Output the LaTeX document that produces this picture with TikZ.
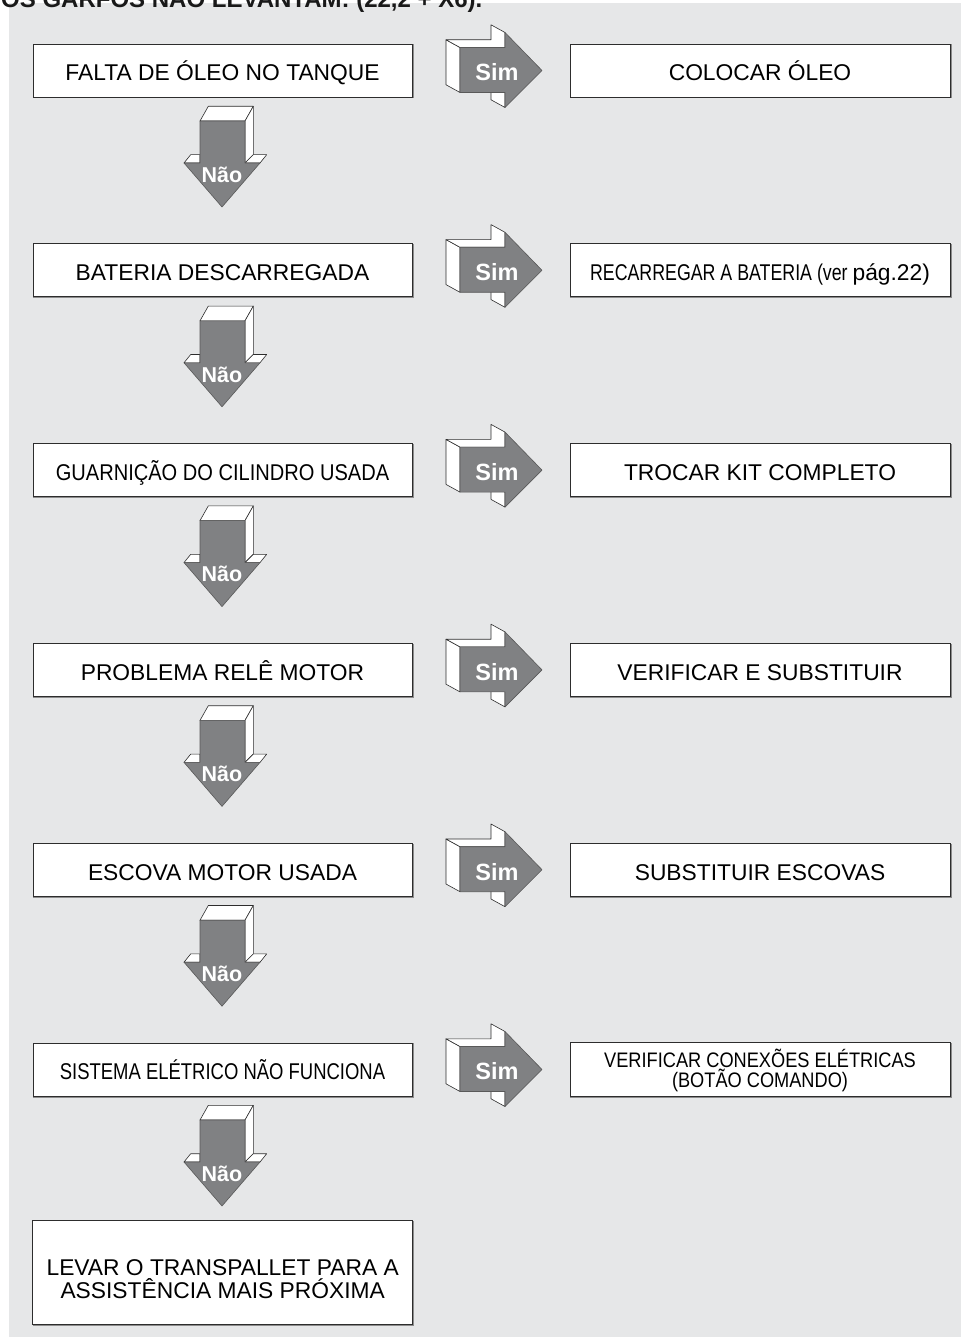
\documentclass[tikz,border=0pt]{standalone}
\usepackage{fontspec}
\usepackage{graphicx}
\setmainfont{Liberation Sans}
\newfontfamily\libsans{Liberation Sans}
\definecolor{bggray}{RGB}{230,231,232}
\definecolor{arrgray}{RGB}{128,129,131}
\definecolor{edgegray}{RGB}{45,45,45}
\newcommand{\bsz}{\libsans\fontsize{22.8pt}{24pt}\selectfont}
\newcommand{\cnd}[2]{\scalebox{#1}[1]{#2}}
\tikzset{
  face/.style={fill=white, draw=edgegray, line width=0.6pt, line join=round},
  frontface/.style={fill=arrgray, draw=black!65, line width=0.6pt, line join=round},
  boxbase/.style={draw=edgegray, line width=0.8pt, fill=white, inner sep=0pt,
     align=center, font=\bsz,
     preaction={draw=black!45, line width=1.2pt, transform canvas={shift={(0.9pt,-0.9pt)}}}},
  qbox/.style={boxbase, minimum width=379pt, minimum height=53pt, text height=20.7pt, text depth=0pt},
  abox/.style={boxbase, minimum width=380pt, minimum height=53pt, text height=20.7pt, text depth=0pt},
  simlbl/.style={text=white, font=\libsans\bfseries\fontsize{23.5pt}{23.5pt}\selectfont, inner sep=0pt, text height=16.8pt, text depth=0pt},
  naolbl/.style={text=white, font=\libsans\bfseries\fontsize{21.5pt}{21.5pt}\selectfont, inner sep=0pt, text height=15.4pt, text depth=0pt},
}
\begin{document}
\begin{tikzpicture}[x=1pt, y=-1pt]
\useasboundingbox (0,0) rectangle (961,1337);
\clip (0,0) rectangle (961,1337);
\fill[bggray] (9,3) rectangle (961,1337);
\node[anchor=base west, inner sep=0pt, font=\libsans\bfseries\fontsize{24pt}{24pt}\selectfont, text=black!90] (title) at (1,7.5) {OS GARFOS NÃO LEVANTAM: (22,2 + X6).};

% question boxes
\node[qbox] (q1) at (222.5,70.5) {FALTA DE ÓLEO NO TANQUE};
\node[qbox] (q2) at (222.5,270.3) {BATERIA DESCARREGADA};
\node[qbox] (q3) at (222.5,470.1) {\cnd{0.88}{GUARNIÇÃO DO CILINDRO USADA}};
\node[qbox] (q4) at (222.5,669.9) {PROBLEMA RELÊ MOTOR};
\node[qbox] (q5) at (222.5,869.7) {ESCOVA MOTOR USADA};
\node[qbox] (q6) at (222.5,1069.5) {\cnd{0.81}{SISTEMA ELÉTRICO NÃO FUNCIONA}};

% action boxes
\node[abox] (a1) at (760,70.5) {COLOCAR ÓLEO};
\node[abox] (a2) at (760,270.3) {\cnd{0.78}{RECARREGAR A BATERIA (ver }pág.22)};
\node[abox] (a3) at (760,470.1) {TROCAR KIT COMPLETO};
\node[abox] (a4) at (760,669.9) {VERIFICAR E SUBSTITUIR};
\node[abox] (a5) at (760,869.7) {SUBSTITUIR ESCOVAS};
\node[boxbase, minimum width=380pt, minimum height=54pt, text height=35pt, text depth=0pt,
      font=\libsans\fontsize{21pt}{20pt}\selectfont] (a6) at (760,1069.5)
      {\cnd{0.867}{VERIFICAR CONEXÕES ELÉTRICAS}\\\cnd{0.867}{(BOTÃO COMANDO)}};

% final box
\node[boxbase, minimum width=380pt, minimum height=104pt, text height=51pt, text depth=0pt,
      font=\libsans\fontsize{22.8pt}{23.3pt}\selectfont] (fin) at (222.7,1272.8)
      {LEVAR O TRANSPALLET PARA A\\ASSISTÊNCIA MAIS PRÓXIMA};

% Sim arrows
\foreach \c [count=\k] in {70.5,270.3,470.1,669.9,869.7,1069.5}{
  \begin{scope}[shift={(0,\c)}]
    \draw[face] (460,-23) -- (446,-30.7) -- (446,14.3) -- (460,22) -- cycle;
    \draw[face] (446,-30.7) -- (491,-30.7) -- (491,-45.7) -- (505,-38) -- (505,-23) -- (460,-23) -- cycle;
    \draw[face] (491,14.3) -- (505,22) -- (505,37) -- (491,29.3) -- cycle;
    \draw[frontface] (460,-23) -- (505,-23) -- (505,-38) -- (542,0) -- (505,37) -- (505,22) -- (460,22) -- cycle;
    \node[simlbl] (s\k) at (497,2) {Sim};
  \end{scope}
}

% Nao arrows
\foreach \c [count=\k] in {70.5,270.3,470.1,669.9,869.7,1069.5}{
  \begin{scope}[shift={(0,\c)}]
    \draw[face] (200,50.5) -- (208.3,35.8) -- (253.3,35.8) -- (245,50.5) -- cycle;
    \draw[face] (245,50.5) -- (253.3,35.8) -- (253.3,84.2) -- (245,92.5) -- cycle;
    \draw[face] (184,92.5) -- (200,92.5) -- (200,84.2) -- (190.7,84.2) -- cycle;
    \draw[face] (245,92.5) -- (260,92.5) -- (266.7,84.2) -- (253.3,84.2) -- cycle;
    \draw[frontface] (200,50.5) -- (245,50.5) -- (245,92.5) -- (260,92.5) -- (222,136.5) -- (184,92.5) -- (200,92.5) -- cycle;
    \node[naolbl] (n\k) at (222,104) {Não};
  \end{scope}
}
\end{tikzpicture}
\end{document}
